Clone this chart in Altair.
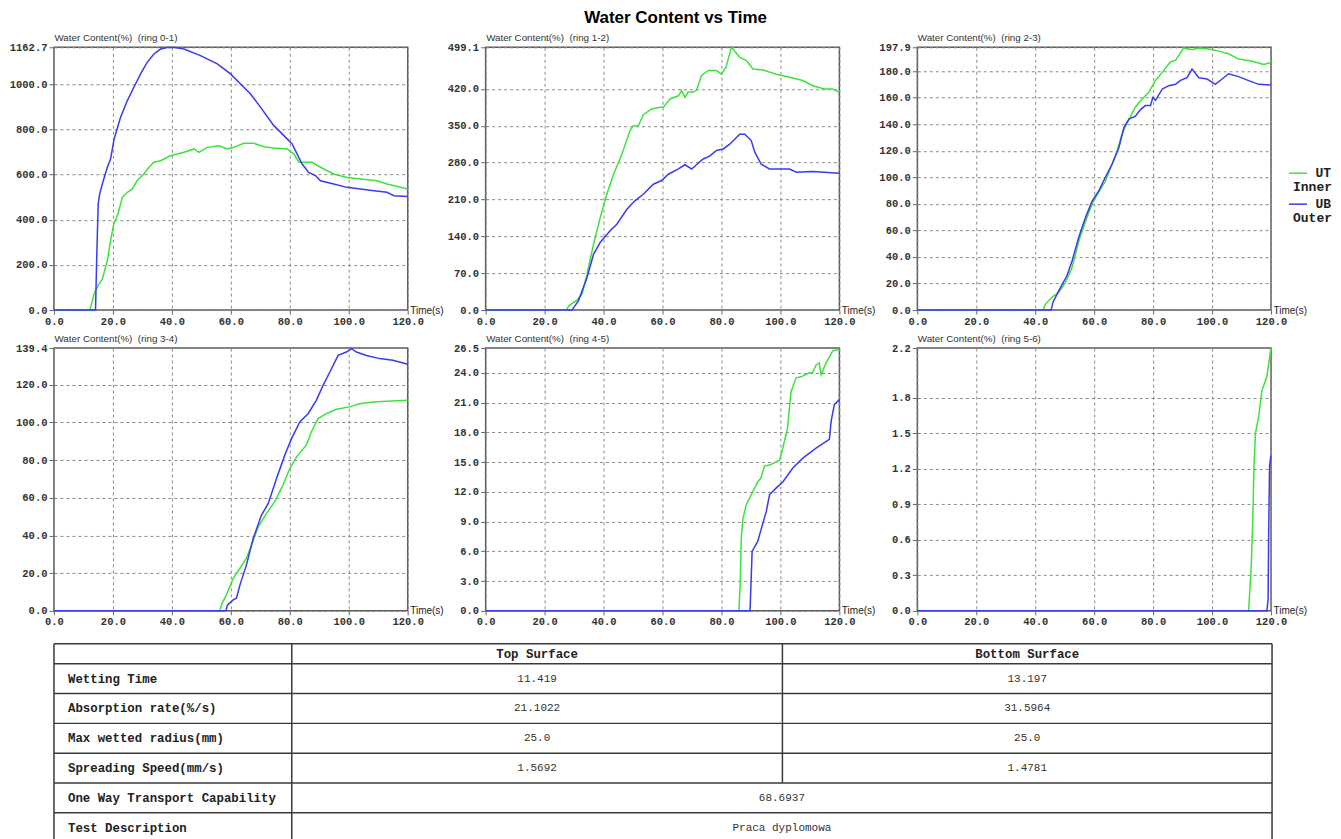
import altair as alt
import pandas as pd

# ---------------- data ----------------
TIME_TICKS = [0, 20, 40, 60, 80, 100, 120]

ring_names = ["ring 0-1", "ring 1-2", "ring 2-3", "ring 3-4", "ring 4-5", "ring 5-6"]
ring_ymax = [1162.7, 499.1, 197.9, 139.4, 26.5, 2.22]
ring_yticks = [
    [0, 200, 400, 600, 800, 1000, 1162.7],
    [0, 70, 140, 210, 280, 350, 420, 499.1],
    [0, 20, 40, 60, 80, 100, 120, 140, 160, 180, 197.9],
    [0, 20, 40, 60, 80, 100, 120, 139.4],
    [0, 3, 6, 9, 12, 15, 18, 21, 24, 26.5],
    [0, 0.3, 0.6, 0.9, 1.2, 1.5, 1.8, 2.22],
]

r01_ut_t = [0, 12.2, 13.6, 14.9, 16.4, 18.1, 19.2, 20.3, 21.7, 23.2, 24.9, 26.6, 28.2, 30.5, 32.2, 33.9, 36.2, 39.5, 44.1, 47.5, 49.2, 52.0, 55.9, 58.8, 61.0, 64.4, 67.8, 71.2, 74.6, 79.1, 81.4, 83.1, 87.6, 90.4, 94.9, 99.4, 104.0, 109.6, 113.0, 120]
r01_ut_v = [0, 0, 71, 108, 137, 218, 307, 381, 425, 499, 521, 536, 572, 602, 632, 654, 661, 683, 698, 713, 698, 720, 727, 713, 720, 738, 738, 723, 717, 713, 690, 654, 654, 632, 602, 587, 580, 572, 558, 536]
r01_ub_t = [0, 14.1, 14.5, 15.0, 15.5, 16.4, 18.1, 19.2, 20.3, 20.9, 22.6, 24.9, 27.1, 29.4, 31.6, 33.9, 36.2, 38.4, 41.0, 44.1, 49.7, 55.4, 59.9, 63.3, 66.7, 70.1, 74.6, 78.0, 80.8, 82.5, 84.2, 86.4, 88.7, 90.4, 94.9, 99.4, 104.0, 108.5, 113.0, 115.3, 120]
r01_ub_v = [0, 0, 230, 470, 513, 558, 632, 668, 750, 779, 853, 927, 986, 1045, 1096, 1133, 1155, 1162, 1162, 1155, 1126, 1089, 1045, 1000, 956, 897, 816, 772, 735, 690, 646, 609, 595, 572, 558, 543, 536, 528, 521, 506, 503]

r12_ut_t = [0, 27.4, 28.2, 31.0, 32.7, 34.4, 36.6, 38.9, 41.1, 43.4, 46.2, 49.0, 50.1, 51.8, 53.5, 56.3, 59.2, 60.3, 62.5, 65.4, 66.5, 67.6, 68.7, 70.4, 71.5, 73.2, 75.5, 78.3, 80.0, 81.5, 83.4, 86.2, 88.5, 90.7, 94.1, 98.6, 103.1, 107.6, 111.0, 114.9, 117.7, 120]
r12_ut_v = [0, 0, 8, 19, 30, 68, 125, 176, 220, 258, 296, 341, 350, 350, 371, 382, 385, 385, 401, 407, 417, 404, 414, 414, 417, 445, 455, 455, 448, 461, 499, 480, 474, 458, 456, 448, 442, 436, 426, 420, 420, 414]
r12_ub_t = [0, 29.3, 31.5, 34.4, 36.6, 38.9, 42.3, 44.5, 48.0, 50.7, 53.5, 56.9, 59.7, 62.0, 65.4, 67.6, 69.9, 71.5, 73.8, 76.1, 78.3, 80.6, 82.8, 86.2, 87.9, 90.1, 91.3, 93.5, 96.3, 103.1, 105.4, 111.0, 120]
r12_ub_v = [0, 0, 18, 62, 106, 129, 151, 163, 192, 208, 220, 239, 246, 258, 268, 276, 268, 276, 287, 293, 303, 306, 315, 334, 334, 322, 300, 277, 268, 268, 262, 263, 260]

r23_ut_t = [0, 42.6, 43.5, 45.8, 48.0, 50.3, 52.5, 54.8, 57.1, 59.3, 61.6, 63.8, 66.1, 67.8, 69.5, 71.2, 74.0, 76.3, 78.5, 80.8, 83.1, 85.9, 87.6, 90.4, 93.2, 95.5, 98.9, 102.3, 105.6, 109.0, 112.4, 115.8, 117.5, 120]
r23_ut_v = [0, 0, 4.5, 10, 13.3, 21, 32, 52, 67, 80, 89, 97, 110, 120, 133, 141, 153, 159, 164, 173, 179, 187, 188, 197.4, 196, 197.4, 196.6, 195, 193, 189, 188, 186, 185, 186.5]
r23_ub_t = [0, 45.4, 46.0, 48.0, 50.8, 52.5, 54.8, 57.1, 59.3, 61.6, 63.8, 66.1, 68.4, 70.1, 71.8, 74.0, 75.7, 77.4, 79.1, 79.9, 80.8, 83.1, 85.3, 87.6, 89.3, 91.5, 93.2, 95.5, 98.3, 101.1, 103.4, 105.6, 109.0, 112.4, 115.8, 120]
r23_ub_v = [0, 0, 5.8, 14.6, 26, 37, 55, 70, 82, 90, 100, 110, 122.5, 137.6, 143.9, 146, 151, 154, 154, 160, 158, 166.5, 169, 170, 173, 175, 181.5, 175, 174, 170, 174, 178, 175.8, 172.8, 170, 169.5]

r34_ut_t = [0, 56.3, 56.8, 58.5, 60.8, 63.1, 65.3, 67.0, 69.3, 72.1, 74.9, 77.7, 80.0, 82.3, 85.6, 87.3, 89.6, 92.4, 95.8, 100.3, 103.7, 108.2, 112.8, 120]
r34_ut_v = [0, 0, 3.2, 8.5, 17.3, 22.6, 27.9, 34.9, 44.6, 51.7, 57.9, 66.7, 75.5, 81.7, 87.9, 94.9, 102, 104.6, 106.9, 108.2, 109.9, 110.8, 111.2, 111.7]
r34_ub_t = [0, 58.3, 58.9, 60.8, 61.9, 63.1, 65.3, 67.6, 70.4, 72.7, 75.5, 78.3, 80.6, 83.4, 86.2, 89.0, 91.3, 93.6, 96.4, 99.2, 100.9, 102.6, 106.0, 110.5, 115.0, 120]
r34_ub_v = [0, 0, 3.2, 5.8, 6.7, 13.8, 24.4, 38.5, 50.8, 57, 70.2, 82.6, 91.4, 100.2, 104.6, 111.7, 119.6, 126.7, 135.5, 137.3, 139.1, 137.3, 135.5, 133.8, 132.9, 130.8]

r45_ut_t = [0, 85.9, 86.4, 86.7, 87.3, 88.4, 90.1, 92.3, 93.4, 94.6, 96.3, 99.7, 100.8, 102.4, 103.6, 105.3, 107.0, 109.8, 110.9, 112.1, 113.2, 113.8, 115.5, 117.7, 120]
r45_ut_v = [0, 0, 3, 7.3, 9.3, 10.7, 11.7, 13.0, 13.4, 14.6, 14.7, 15.2, 16.4, 18.4, 22.1, 23.5, 23.6, 24.0, 24.0, 24.8, 25.0, 23.8, 25.0, 26.2, 26.4]
r45_ub_t = [0, 89.7, 90.4, 92.3, 94.0, 95.2, 96.3, 98.6, 100.8, 104.2, 107.6, 112.1, 116.6, 117.2, 118.3, 120]
r45_ub_v = [0, 0, 6.0, 7.0, 8.8, 10.0, 11.7, 12.4, 13.0, 14.4, 15.4, 16.4, 17.3, 19.1, 20.8, 21.3]

r56_ut_t = [0, 112.4, 113.3, 113.8, 114.2, 114.7, 115.8, 116.9, 118.6, 119.8, 120]
r56_ut_v = [0, 0, 0.385, 0.776, 1.22, 1.50, 1.64, 1.86, 1.98, 2.19, 2.22]
r56_ub_t = [0, 118.6, 119.0, 119.2, 119.5, 119.9]
r56_ub_v = [0, 0, 0.1, 0.66, 1.22, 1.31]

series = [
    (r01_ut_t, r01_ut_v, r01_ub_t, r01_ub_v),
    (r12_ut_t, r12_ut_v, r12_ub_t, r12_ub_v),
    (r23_ut_t, r23_ut_v, r23_ub_t, r23_ub_v),
    (r34_ut_t, r34_ut_v, r34_ub_t, r34_ub_v),
    (r45_ut_t, r45_ut_v, r45_ub_t, r45_ub_v),
    (r56_ut_t, r56_ut_v, r56_ub_t, r56_ub_v),
]

legend_names = ["UT", "UB"]
legend_sub = ["Inner", "Outer"]

table_header = ["Top Surface", "Bottom Surface"]
table_rows = ["Wetting Time", "Absorption rate(%/s)", "Max wetted radius(mm)",
              "Spreading Speed(mm/s)", "One Way Transport Capability", "Test Description"]
top_values = ["11.419", "21.1022", "25.0", "1.5692"]
bottom_values = ["13.197", "31.5964", "25.0", "1.4781"]
merged_values = ["68.6937", "Praca dyplomowa"]

# ---------------- style / layout ----------------
MONO = "Liberation Mono"
SANS = "Liberation Sans"
GREEN = "#3be33b"
BLUE = "#3a3af0"
W, H = 354, 263

COL_EDGES = [0, 238, 729, 1219]
HEADER_H = 20
ROW_H = 29.8
TABLE_W = COL_EDGES[-1]


def panel(i, legend=False):
    ut_t, ut_v, ub_t, ub_v = series[i]
    x_enc = alt.X("t:Q",
                  scale=alt.Scale(domain=[0, 120], nice=False, zero=False),
                  axis=alt.Axis(values=TIME_TICKS, format=".1f", title="Time(s)",
                                titleX=W + 2, titleY=0, titleAlign="left",
                                titleBaseline="middle", titleAngle=0,
                                titleFontSize=10, titleColor="#222",
                                tickCount=50, labelFlush=False, labelOverlap=False))
    y_enc = alt.Y("v:Q",
                  scale=alt.Scale(domain=[0, ring_ymax[i]], nice=False, zero=True),
                  axis=alt.Axis(values=ring_yticks[i], format=".1f",
                                title="Water Content(%)\u00a0 (" + ring_names[i] + ")",
                                titleAngle=0, titleX=0, titleY=-10,
                                titleAlign="left", titleBaseline="middle",
                                titleFontSize=9.8, titleColor="#333",
                                tickSize=5, tickCount=50,
                                labelFlush=False, labelOverlap=False))
    ut = alt.Chart(pd.DataFrame({"t": ut_t, "v": ut_v})).mark_line(
        color=GREEN, strokeWidth=1.5).encode(x=x_enc, y=y_enc)
    ub = alt.Chart(pd.DataFrame({"t": ub_t, "v": ub_v})).mark_line(
        color=BLUE, strokeWidth=1.5).encode(x="t:Q", y="v:Q")
    layers = [ut, ub]
    if legend:
        cols = [GREEN, BLUE]
        for k in range(2):
            base = alt.Chart(pd.DataFrame({"name": [legend_names[k]],
                                           "sub": [legend_sub[k]]}))
            y0 = 126 + 31 * k
            layers.append(base.mark_rule(color=cols[k], strokeWidth=1.5).encode(
                x=alt.value(W + 18), x2=alt.value(W + 36), y=alt.value(y0)))
            layers.append(base.mark_text(font=MONO, fontSize=13, fontWeight="bold",
                                         align="right", baseline="middle",
                                         color="#222").encode(
                text="name:N", x=alt.value(W + 60), y=alt.value(y0)))
            layers.append(base.mark_text(font=MONO, fontSize=13, fontWeight="bold",
                                         align="right", baseline="middle",
                                         color="#222").encode(
                text="sub:N", x=alt.value(W + 61), y=alt.value(y0 + 14)))
    return alt.layer(*layers).properties(width=W, height=H)


panels = [panel(i, legend=(i == 2)) for i in range(6)]
grid = alt.concat(*panels, columns=3, spacing={"row": 38, "column": 78},
                  bounds="flush")

# ---------------- table ----------------
row_edges = [0, HEADER_H] + [HEADER_H + ROW_H * (k + 1) for k in range(len(table_rows))]
TABLE_H = row_edges[-1]
centers = [(row_edges[k] + row_edges[k + 1]) / 2 for k in range(len(row_edges) - 1)]
c_top = (COL_EDGES[1] + COL_EDGES[2]) / 2
c_bot = (COL_EDGES[2] + COL_EDGES[3]) / 2
c_merge = (COL_EDGES[1] + COL_EDGES[3]) / 2

hdr_df = pd.DataFrame({"text": table_header, "x": [c_top, c_bot],
                       "y": [centers[0], centers[0]]})
lab_df = pd.DataFrame({"text": table_rows, "x": [14] * len(table_rows),
                       "y": centers[1:]})
val_text = top_values + bottom_values + merged_values
val_x = [c_top] * len(top_values) + [c_bot] * len(bottom_values) + [c_merge] * len(merged_values)
val_y = centers[1:1 + len(top_values)] * 2 + centers[1 + len(top_values):]
val_df = pd.DataFrame({"text": val_text, "x": val_x, "y": val_y})

split_rows = 1 + len(top_values)
h_rules = pd.DataFrame({"x": [0] * len(row_edges), "x2": [TABLE_W] * len(row_edges),
                        "y": row_edges})
v_rules = pd.DataFrame({"x": [COL_EDGES[0], COL_EDGES[1], COL_EDGES[2], COL_EDGES[3]],
                        "y": [0, 0, 0, 0],
                        "y2": [TABLE_H, TABLE_H, row_edges[split_rows], TABLE_H]})

tx = alt.Scale(domain=[0, TABLE_W], nice=False, zero=False)
ty = alt.Scale(domain=[0, TABLE_H], nice=False, zero=False, reverse=True)

t_h = alt.Chart(h_rules).mark_rule(color="#3a3a3a", strokeWidth=1.5).encode(
    x=alt.X("x:Q", scale=tx, axis=None), x2="x2:Q",
    y=alt.Y("y:Q", scale=ty, axis=None))
t_v = alt.Chart(v_rules).mark_rule(color="#3a3a3a", strokeWidth=1.5).encode(
    x=alt.X("x:Q", scale=tx, axis=None),
    y=alt.Y("y:Q", scale=ty, axis=None), y2="y2:Q")
t_hdr = alt.Chart(hdr_df).mark_text(font=MONO, fontSize=12.4, fontWeight="bold",
                                    color="#222", baseline="middle").encode(
    x=alt.X("x:Q", scale=tx, axis=None), y=alt.Y("y:Q", scale=ty, axis=None), text="text:N")
t_lab = alt.Chart(lab_df).mark_text(font=MONO, fontSize=12.4, fontWeight="bold",
                                    color="#222", align="left", baseline="middle").encode(
    x=alt.X("x:Q", scale=tx, axis=None), y=alt.Y("y:Q", scale=ty, axis=None), text="text:N")
t_val = alt.Chart(val_df).mark_text(font=MONO, fontSize=11, color="#333",
                                    baseline="middle").encode(
    x=alt.X("x:Q", scale=tx, axis=None), y=alt.Y("y:Q", scale=ty, axis=None), text="text:N")

table = alt.layer(t_h, t_v, t_hdr, t_lab, t_val).properties(
    width=TABLE_W, height=TABLE_H, view=alt.ViewBackground(strokeOpacity=0))

chart = alt.vconcat(grid, table, spacing=14).properties(
    title=alt.TitleParams("Water Content vs Time", font=SANS, fontSize=17,
                          fontWeight="bold", anchor="middle", offset=5, dx=5,
                          color="#000"),
    padding={"left": 0, "top": 0, "right": 0, "bottom": 0},
).configure_view(
    stroke="#5a5a5a", strokeWidth=1.5
).configure_axis(
    labelFont=MONO, labelFontSize=10.5, labelFontWeight="bold", labelColor="#333",
    tickColor="#666", tickSize=4, labelPadding=2, domain=False,
    gridColor="#8a8a8a", gridDash=[3, 3], gridWidth=1,
    titleFont=SANS, titleFontWeight="normal",
)

chart.save("out.html", embed_options={"renderer": "svg", "actions": False})
